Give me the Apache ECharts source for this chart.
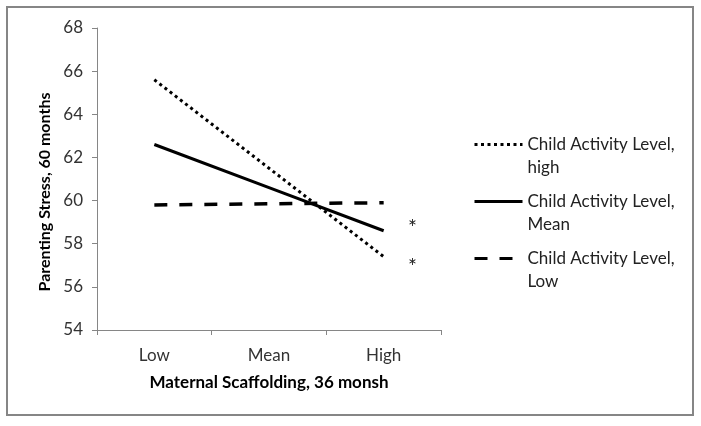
<!DOCTYPE html>
<html>
<head>
<meta charset="utf-8">
<script src="https://cdn.jsdelivr.net/npm/echarts@6/dist/echarts.min.js"></script>
<style>
html,body{margin:0;padding:0;background:#fff;}
#chart{width:701px;height:426px;}
</style>
</head>
<body>
<div id="chart"></div>
<script>
const categories = ['Low', 'Mean', 'High'];
const highActivity = [65.6, 61.5, 57.4];
const meanActivity = [62.6, 60.6, 58.6];
const lowActivity = [59.8, 59.85, 59.9];
const seriesNames = ['Child Activity Level,\nhigh', 'Child Activity Level,\nMean', 'Child Activity Level,\nLow'];
const yTicks = { min: 54, max: 68, interval: 2 };

const FONT = 'Lato';
const chart = echarts.init(document.getElementById('chart'));
chart.setOption({
  animation: false,
  backgroundColor: '#fff',
  textStyle: { fontFamily: FONT },
  grid: { left: 97, top: 28, right: 260, bottom: 96, containLabel: false },
  xAxis: {
    type: 'category',
    data: categories,
    boundaryGap: true,
    axisLine: { lineStyle: { color: '#868686', width: 1 } },
    axisTick: { show: true, length: 5, lineStyle: { color: '#868686' } },
    axisLabel: { fontSize: 17, color: '#333', margin: 17, fontFamily: FONT },
    name: 'Maternal Scaffolding, 36 monsh',
    nameLocation: 'middle',
    nameGap: 44,
    nameTextStyle: { fontSize: 17, fontWeight: 'bold', color: '#000', fontFamily: FONT },
    splitLine: { show: false }
  },
  yAxis: {
    type: 'value',
    min: yTicks.min, max: yTicks.max, interval: yTicks.interval,
    axisLine: { show: true, lineStyle: { color: '#868686', width: 1 } },
    axisTick: { show: true, length: 5, lineStyle: { color: '#868686' } },
    axisLabel: { fontSize: 17, color: '#333', margin: 14, fontFamily: FONT },
    splitLine: { show: false },
    name: 'Parenting Stress, 60 months',
    nameLocation: 'middle',
    nameGap: 44,
    nameTextStyle: { fontSize: 16, fontWeight: 'bold', color: '#000', fontFamily: FONT, padding: [0, 26, 0, 0] }
  },
  legend: {
    orient: 'vertical',
    left: 468,
    top: 105,
    itemWidth: 48,
    itemHeight: 14,
    itemGap: -12,
    data: seriesNames,
    formatter: function (name) { return '\n' + name; },
    itemStyle: { opacity: 0 },
    lineStyle: { width: 3 },
    textStyle: { fontSize: 17, color: '#222', lineHeight: 23, fontFamily: FONT },
    selectedMode: false
  },
  series: [
    {
      name: seriesNames[0], type: 'line', data: highActivity,
      symbol: 'none',
      lineStyle: { color: '#000', width: 3, type: [3, 3.5] },
      itemStyle: { color: '#000' }
    },
    {
      name: seriesNames[1], type: 'line', data: meanActivity,
      symbol: 'none',
      lineStyle: { color: '#000', width: 3, type: 'solid' },
      itemStyle: { color: '#000' }
    },
    {
      name: seriesNames[2], type: 'line', data: lowActivity,
      symbol: 'none',
      lineStyle: { color: '#000', width: 3.5, type: [13, 12] },
      itemStyle: { color: '#000' }
    }
  ],
  graphic: [
    { type: 'rect', shape: { x: 7, y: 7, width: 686, height: 408 }, style: { fill: 'none', stroke: '#868686', lineWidth: 2 }, silent: true },
    { type: 'text', left: 408, top: 218, style: { text: '*', fontSize: 21, fill: '#222', fontFamily: FONT } },
    { type: 'text', left: 408, top: 257, style: { text: '*', fontSize: 21, fill: '#222', fontFamily: FONT } }
  ]
});
</script>
</body>
</html>
